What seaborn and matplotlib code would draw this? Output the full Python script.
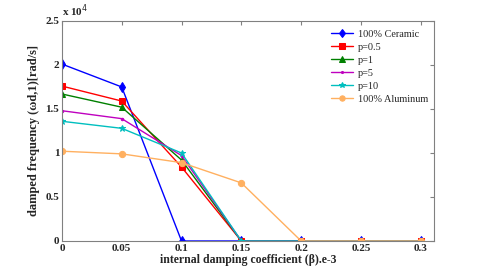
import pandas as pd
import matplotlib
matplotlib.use("Agg")
import matplotlib.pyplot as plt
import seaborn as sns

# damping coefficient values (x axis)
beta = [0, 0.05, 0.1, 0.15, 0.2, 0.25, 0.3]

# damped frequency, units of 1e4 rad/s
ceramic = [2.01, 1.75, 0.0, 0.0, 0.0, 0.0, 0.0]
p05 = [1.76, 1.59, 0.84, 0.0, 0.0, 0.0, 0.0]
p1 = [1.67, 1.52, 0.92, 0.0, 0.0, 0.0, 0.0]
p5 = [1.48, 1.39, 0.97, 0.0, 0.0, 0.0, 0.0]
p10 = [1.36, 1.28, 1.00, 0.0, 0.0, 0.0, 0.0]
aluminum = [1.02, 0.99, 0.89, 0.66, 0.0, 0.0, 0.0]

series_names = ["100% Ceramic", "p=0.5", "p=1", "p=5", "p=10", "100% Aluminum"]
series_vals = [ceramic, p05, p1, p5, p10, aluminum]
colors = ["#0000ff", "#ff0000", "#008000", "#bf00bf", "#00bfbf", "#ffb060"]
markers = ["d", "s", "^", ".", "*", "o"]
sizes = [5, 5, 4.5, 3.5, 4.5, 4.5]

rows = []
for name, vals in zip(series_names, series_vals):
    for b, v in zip(beta, vals):
        rows.append({"beta": b, "freq": v * 1e4, "series": name})
df = pd.DataFrame(rows)

sns.set_style("white")
plt.rcParams["font.family"] = ["Liberation Serif", "DejaVu Serif"]

fig = plt.figure(figsize=(4.8, 2.72), dpi=100)
ax = fig.add_axes([0.129, 0.114, 0.775, 0.809])

for name, c, m, s in zip(series_names, colors, markers, sizes):
    sub = df[df["series"] == name]
    sns.lineplot(data=sub, x="beta", y="freq", color=c, marker=m, markersize=s,
                 markeredgecolor=c, linewidth=1.0, label=name, ax=ax)

ax.set_xlim(0, 0.311)
ax.set_ylim(0, 2.5e4)
ax.set_xticks(beta)
ax.set_xticklabels(["0", "0.05", "0.1", "0.15", "0.2", "0.25", "0.3"],
                   fontweight="bold", fontsize=8)
ax.set_yticks([0, 0.5e4, 1e4, 1.5e4, 2e4, 2.5e4])
ax.set_yticklabels(["0", "0.5", "1", "1.5", "2", "2.5"], fontweight="bold", fontsize=8)
ax.text(0.0, 1.01, r"x 10$^4$", transform=ax.transAxes, fontsize=8,
        fontweight="bold", va="bottom", ha="left")

ax.tick_params(direction="in", top=True, right=True, length=3, color="#808080", pad=2)
for sp in ax.spines.values():
    sp.set_color("#808080")
    sp.set_linewidth(0.8)

ax.set_xlabel("internal damping coefficient (β).e-3", fontweight="bold", fontsize=8.5, labelpad=1)
ax.set_ylabel("damped frequency (ωd,1)[rad/s]", fontweight="bold", fontsize=9, labelpad=4)

ax.legend(loc="upper right", frameon=False, fontsize=7.4, handlelength=2.2,
          handletextpad=0.4, labelspacing=0.38, borderaxespad=0.2,
          bbox_to_anchor=(1.0, 0.99), markerscale=0.85)

plt.savefig("out.png", dpi=100)
